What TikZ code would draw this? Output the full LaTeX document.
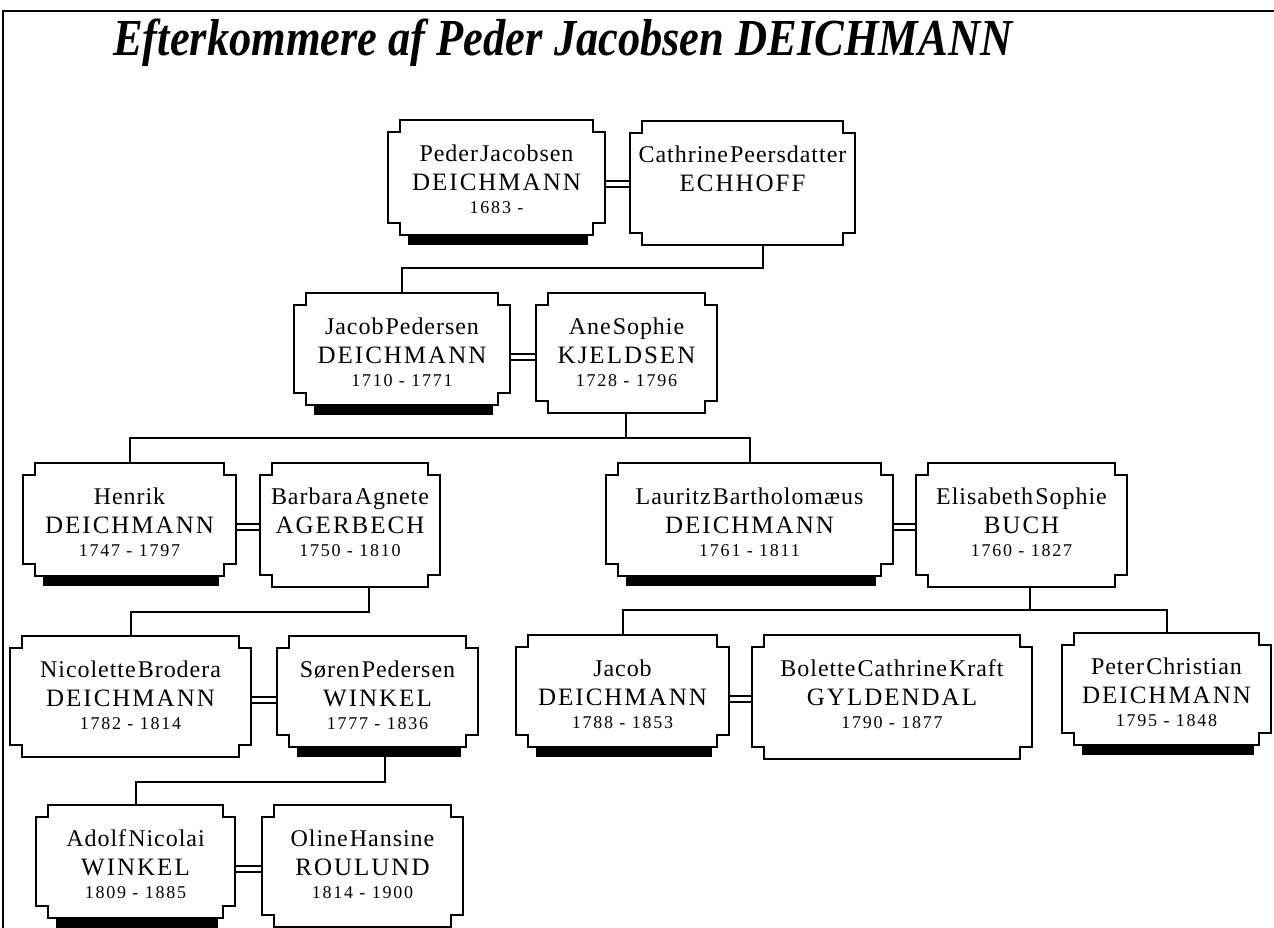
\documentclass[tikz,border=0pt]{standalone}
\usepackage{fontspec}
\setmainfont{Liberation Serif}
\newfontfamily\nmfont[LetterSpace=4,WordSpace=0.3]{Liberation Serif}
\newfontfamily\capfont[LetterSpace=8]{Liberation Serif}
\newfontfamily\dtfont[LetterSpace=10]{Liberation Serif}
\usetikzlibrary{calc,fit}
\tikzset{
  boxline/.style={line width=2.4pt, fill=white, line join=miter},
  link/.style={line width=2pt},
  wedlock/.style={line width=1.8pt},
  framel/.style={line width=2.5pt},
  nametext/.style={font={\nmfont\fontsize{24}{28}\selectfont}, anchor=base, inner sep=0pt},
  captext/.style={font={\capfont\fontsize{25}{28}\selectfont}, anchor=base, inner sep=0pt},
  datetext/.style={font={\dtfont\fontsize{18}{20}\selectfont}, anchor=base, inner sep=0pt},
}
% #1 name, #2 x1, #3 y1, #4 x2, #5 y2, #6 line1, #7 line2, #8 line3, #9 shadow
\newcommand\person[9]{%
  \ifnum#9=1 \fill (#2+20,#5-2) rectangle (#4-17,#5+10);\fi
  \draw[boxline] (#2,#3+12) -- (#2+12,#3+12) -- (#2+12,#3) -- (#4-12,#3) -- (#4-12,#3+12) -- (#4,#3+12) -- (#4,#5-12) -- (#4-12,#5-12) -- (#4-12,#5) -- (#2+12,#5) -- (#2+12,#5-12) -- (#2,#5-12) -- cycle;
  \node[inner sep=0pt, fit={(#2,#3) (#4,#5)}] (#1) {};
  \node[nametext] (#1-a) at ($(#1.north)+(0,42)$) {#6};
  \node[captext] (#1-b) at ($(#1.north)+(0,71)$) {#7};
  \node[datetext] (#1-c) at ($(#1.north)+(0,94)$) {#8};
}
\newcommand\wed[2]{%
  \path ($(#1.north east)+(0,61)$) coordinate (#1-wa) ($(#1.north east)+(0,67)$) coordinate (#1-wb);
  \draw[wedlock] (#1-wa) -- (#1-wa -| #2.west);
  \draw[wedlock] (#1-wb) -- (#1-wb -| #2.west);
}
\begin{document}
\begin{tikzpicture}[x=1pt,y=-1pt]
\useasboundingbox (0,0) rectangle (1274,928);
\fill[white] (0,0) rectangle (1274,928);
\draw[framel] (3,928) -- (3,11) -- (1274,11);
\node[anchor=base west, inner sep=0pt] (title) at (113,56)
  {\resizebox{899pt}{\height}{\fontsize{52}{60}\selectfont\bfseries\itshape Efterkommere af Peder Jacobsen DEICHMANN}};

\coordinate (k1) at (763,268);
\coordinate (k2) at (626,438);
\coordinate (k3) at (369,612);
\coordinate (k4) at (1030,610);
\coordinate (k5) at (385,782);

\person{peder}{388}{120}{605}{235}{Peder Jacobsen}{DEICHMANN}{1683 -}{1}
\person{cathrine}{630}{121}{855}{245}{Cathrine Peersdatter}{ECHHOFF}{}{0}
\person{jacobp}{294}{293}{510}{405}{Jacob Pedersen}{DEICHMANN}{1710 - 1771}{1}
\person{ane}{536}{293}{717}{413}{Ane Sophie}{KJELDSEN}{1728 - 1796}{0}
\person{henrik}{23}{463}{236}{576}{Henrik}{DEICHMANN}{1747 - 1797}{1}
\person{barbara}{260}{463}{440}{587}{Barbara Agnete}{AGERBECH}{1750 - 1810}{0}
\person{lauritz}{606}{463}{893}{576}{Lauritz Bartholomæus}{DEICHMANN}{1761 - 1811}{1}
\person{elisabeth}{916}{463}{1127}{587}{Elisabeth Sophie}{BUCH}{1760 - 1827}{0}
\person{nicolette}{10}{636}{251}{757}{Nicolette Brodera}{DEICHMANN}{1782 - 1814}{0}
\person{soren}{277}{636}{478}{747}{Søren Pedersen}{WINKEL}{1777 - 1836}{1}
\person{jacob}{516}{635}{729}{747}{Jacob}{DEICHMANN}{1788 - 1853}{1}
\person{bolette}{752}{635}{1032}{759}{Bolette Cathrine Kraft}{GYLDENDAL}{1790 - 1877}{0}
\person{peter}{1062}{633}{1271}{745}{Peter Christian}{DEICHMANN}{1795 - 1848}{1}
\person{adolf}{36}{805}{235}{918}{Adolf Nicolai}{WINKEL}{1809 - 1885}{1}
\person{oline}{262}{805}{463}{927}{Oline Hansine}{ROULUND}{1814 - 1900}{0}

\wed{peder}{cathrine}
\wed{jacobp}{ane}
\wed{henrik}{barbara}
\wed{lauritz}{elisabeth}
\wed{nicolette}{soren}
\wed{jacob}{bolette}
\wed{adolf}{oline}

\path ($(soren.south)+(0,10)$) coordinate (sorenbar);
\draw[link] (cathrine.south -| k1) -- (k1) -| (jacobp.north);
\draw[link] (ane.south -| k2) -- (k2);
\draw[link] (henrik.north) |- (lauritz.north |- k2) -- (lauritz.north);
\draw[link] (barbara.south -| k3) -- (k3) -| (nicolette.north);
\draw[link] (elisabeth.south -| k4) -- (k4);
\draw[link] (jacob.north) |- (peter.north |- k4) -- (peter.north);
\draw[link] (sorenbar -| k5) -- (k5) -| (adolf.north);
\end{tikzpicture}
\end{document}
